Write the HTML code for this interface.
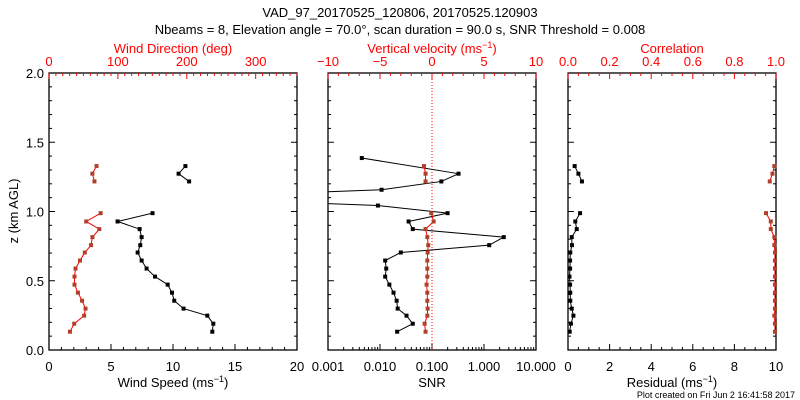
<!DOCTYPE html>
<html><head><meta charset="utf-8"><style>
html,body{margin:0;padding:0;background:#fff;width:800px;height:400px;overflow:hidden}
svg{display:block;font-family:"Liberation Sans",sans-serif}
</style></head><body>
<svg id="c" width="800" height="400" xmlns="http://www.w3.org/2000/svg"></svg>
<script>
const zTop=[1.328,1.273,1.217];
const zMain=[0.988,0.928,0.873,0.815,0.757,0.704,0.646,0.588,0.530,0.472,0.414,0.356,0.299,0.248,0.190,0.132];
const speedTop=[11.0,10.45,11.3];
const speedMain=[8.35,5.53,7.31,7.47,7.36,7.15,7.47,7.87,8.55,9.57,9.92,10.1,10.85,12.77,13.25,13.17];
const dirTop=[69,63,66];
const dirMain=[75,54,73,63,61,52,45,38.5,37,37,42,48,53,51,36.6,30.4];
const snrZ=[1.386,1.273,1.217,1.157,1.10,1.043,0.988,0.928,0.873,0.815,0.757,0.704,0.646,0.588,0.530,0.472,0.414,0.356,0.299,0.248,0.190,0.132];
const snrLog=[-2.35,-0.49,-0.82,-1.97,-6,-2.04,-0.70,-1.45,-1.37,0.38,0.10,-1.60,-1.90,-1.88,-1.90,-1.82,-1.74,-1.68,-1.66,-1.49,-1.37,-1.67];
const velTop=[-0.77,-0.62,-0.62];
const velMain=[-0.07,0.16,-0.62,-0.45,-0.36,-0.42,-0.45,-0.45,-0.45,-0.52,-0.45,-0.45,-0.42,-0.45,-0.71,-0.62];
const resTop=[0.32,0.5,0.67];
const resMain=[0.58,0.35,0.42,0.18,0.19,0.11,0.1,0.1,0.07,0.1,0.11,0.11,0.18,0.26,0.14,0.08];
const corTop=[0.992,0.983,0.970];
const corMain=[0.952,0.975,0.975,0.992,0.992,0.995,0.995,0.995,0.995,0.995,0.995,0.995,0.995,0.992,0.995,0.995];

const S=document.getElementById('c'),NS='http://www.w3.org/2000/svg';
function el(t,a,p){const e=document.createElementNS(NS,t);for(const k in a)e.setAttribute(k,a[k]);(p||S).appendChild(e);return e;}
function txt(x,y,s,col,anc,size,name){const e=el('text',{x:x,y:y,fill:col,'text-anchor':anc||'middle','font-size':size||13});e.textContent=s;

return e;}
const Y0=350,Y1=73;
const yz=z=>Y0-(Y0-Y1)*z/2;
const RED='#ff0000',MK='#b0402a';
function frame(x0,x1,name){
  const r=el('rect',{x:x0,y:Y1,width:x1-x0,height:Y0-Y1,fill:'none',stroke:'#000','stroke-width':1.3});
  
  
  for(let i=0;i<=20;i++){const y=yz(i/10);const L=i%5==0?6:3;
    el('line',{x1:x0,x2:x0+L,y1:y,y2:y,stroke:'#000'});el('line',{x1:x1,x2:x1-L,y1:y,y2:y,stroke:'#000'});}
}
function ticksBottom(sx,vals,major,col){for(const v of vals){const x=sx(v);const L=major(v)?6:3;el('line',{x1:x,x2:x,y1:Y0,y2:Y0-L,stroke:col||'#000'});}}
function ticksTop(sx,vals,major,col){for(const v of vals){const x=sx(v);const L=major(v)?6:3;el('line',{x1:x,x2:x,y1:Y1,y2:Y1+L,stroke:col});}}
function series(xs,zs,sx,lineCol,mkCol,name,clip){
  const g=el('g',clip?{'clip-path':'url(#'+clip+')'}:{});
  
  
  const pts=xs.map((v,i)=>[sx(v),yz(zs[i])]);
  el('polyline',{points:pts.map(p=>p.join(',')).join(' '),fill:'none',stroke:lineCol,'stroke-width':1},g);
  pts.forEach(p=>{if(p[0]>-100)el('rect',{x:p[0]-2,y:p[1]-2,width:4,height:4,fill:mkCol},g);});
}
const defs=el('defs',{});
const cp=el('clipPath',{id:'p2'},defs);el('rect',{x:328,y:Y1,width:208,height:Y0-Y1},cp);

txt(400,17,'VAD_97_20170525_120806, 20170525.120903','#000','middle',13,'chart-title');
txt(400,34,'Nbeams = 8, Elevation angle = 70.0°, scan duration = 90.0 s, SNR Threshold = 0.008','#000','middle',13,'chart-subtitle');

const p1x0=49,p1x1=297;
const sSp=v=>p1x0+(p1x1-p1x0)*v/20, sDir=v=>p1x0+(p1x1-p1x0)*v/360;
frame(p1x0,p1x1,'panel-wind');
ticksBottom(sSp,[...Array(21).keys()],v=>v%5==0);
ticksTop(sDir,[...Array(37).keys()].map(i=>i*10),v=>v%100==0,RED);
[0,5,10,15,20].forEach(v=>txt(sSp(v),371,String(v),'#000','middle',13,'x-tick-speed'));
[0,100,200,300].forEach(v=>txt(sDir(v),66,String(v),RED,'middle',13,'x-tick-direction'));
['0.0','0.5','1.0','1.5','2.0'].forEach((s,i)=>txt(44,yz(i*0.5)+5,s,'#000','end',13,'y-tick'));
const yt=txt(0,0,'z (km AGL)','#000','middle',13,'y-axis-title');yt.setAttribute('transform','translate(18,211) rotate(-90)');
txt(173,53,'Wind Direction (deg)',RED,'middle',13,'direction-axis-title');
const t1=txt(173,387,'','#000','middle',13,'speed-axis-title');
t1.innerHTML='Wind Speed (ms<tspan font-size="9" dy="-5">−1</tspan><tspan dy="5">)</tspan>';
series(dirTop,zTop,sDir,RED,MK,'direction-top');series(dirMain,zMain,sDir,RED,MK,'direction-main');
series(speedTop,zTop,sSp,'#000','#000','speed-top');series(speedMain,zMain,sSp,'#000','#000','speed-main');

const p2x0=328,p2x1=536;
const sL=l=>p2x0+(p2x1-p2x0)*(l+3)/4, sV=v=>p2x0+(p2x1-p2x0)*(v+10)/20;
frame(p2x0,p2x1,'panel-snr');
const lt=[];for(let d=-3;d<1;d++)for(let m=1;m<10;m++)lt.push(d+Math.log10(m));lt.push(1);
for(const l of lt){const x=sL(l);const mj=Math.abs(l-Math.round(l))<1e-9;el('line',{x1:x,x2:x,y1:Y0,y2:Y0-(mj?6:3),stroke:'#000'});}
ticksTop(sV,[...Array(21).keys()].map(i=>i-10),v=>v%5==0,RED);
['0.001','0.010','0.100','1.000','10.000'].forEach((s,i)=>txt(sL(i-3),371,s,'#000','middle',13,'x-tick-snr'));
[-10,-5,0,5,10].forEach(v=>txt(sV(v),66,v<0?'−'+(-v):String(v),RED,'middle',13,'x-tick-velocity'));
txt(432,387,'SNR','#000','middle',13,'snr-axis-title');
const t2=txt(432,53,'','#ff0000','middle',13,'velocity-axis-title');
t2.innerHTML='Vertical velocity (ms<tspan font-size="9" dy="-5">−1</tspan><tspan dy="5">)</tspan>';
el('line',{x1:sV(0),x2:sV(0),y1:Y1,y2:Y0,stroke:RED,'stroke-dasharray':'1,2'});
series(snrLog,snrZ,sL,'#000','#000','snr-series','p2');
series(velTop,zTop,sV,RED,MK,'velocity-top');series(velMain,zMain,sV,RED,MK,'velocity-main');

const p3x0=568,p3x1=776;
const sR=v=>p3x0+(p3x1-p3x0)*v/10, sC=v=>p3x0+(p3x1-p3x0)*v;
frame(p3x0,p3x1,'panel-residual');
ticksBottom(sR,[...Array(21).keys()].map(i=>i*0.5),v=>v%2==0);
ticksTop(sC,[...Array(21).keys()].map(i=>i*0.05),v=>Math.abs(v*5-Math.round(v*5))<1e-6,RED);
[0,2,4,6,8,10].forEach(v=>txt(sR(v),371,String(v),'#000','middle',13,'x-tick-residual'));
['0.0','0.2','0.4','0.6','0.8','1.0'].forEach((s,i)=>txt(sC(i*0.2),66,s,RED,'middle',13,'x-tick-correlation'));
txt(672,53,'Correlation',RED,'middle',13,'correlation-axis-title');
const t3=txt(672,387,'','#000','middle',13,'residual-axis-title');
t3.innerHTML='Residual (ms<tspan font-size="9" dy="-5">−1</tspan><tspan dy="5">)</tspan>';
series(resTop,zTop,sR,'#000','#000','residual-top');series(resMain,zMain,sR,'#000','#000','residual-main');
series(corTop,zTop,sC,RED,MK,'correlation-top');series(corMain,zMain,sC,RED,MK,'correlation-main');
txt(795,398,'Plot created on Fri Jun  2 16:41:58 2017','#000','end',9,'plot-timestamp').setAttribute('xml:space','preserve');
</script>
</body></html>
